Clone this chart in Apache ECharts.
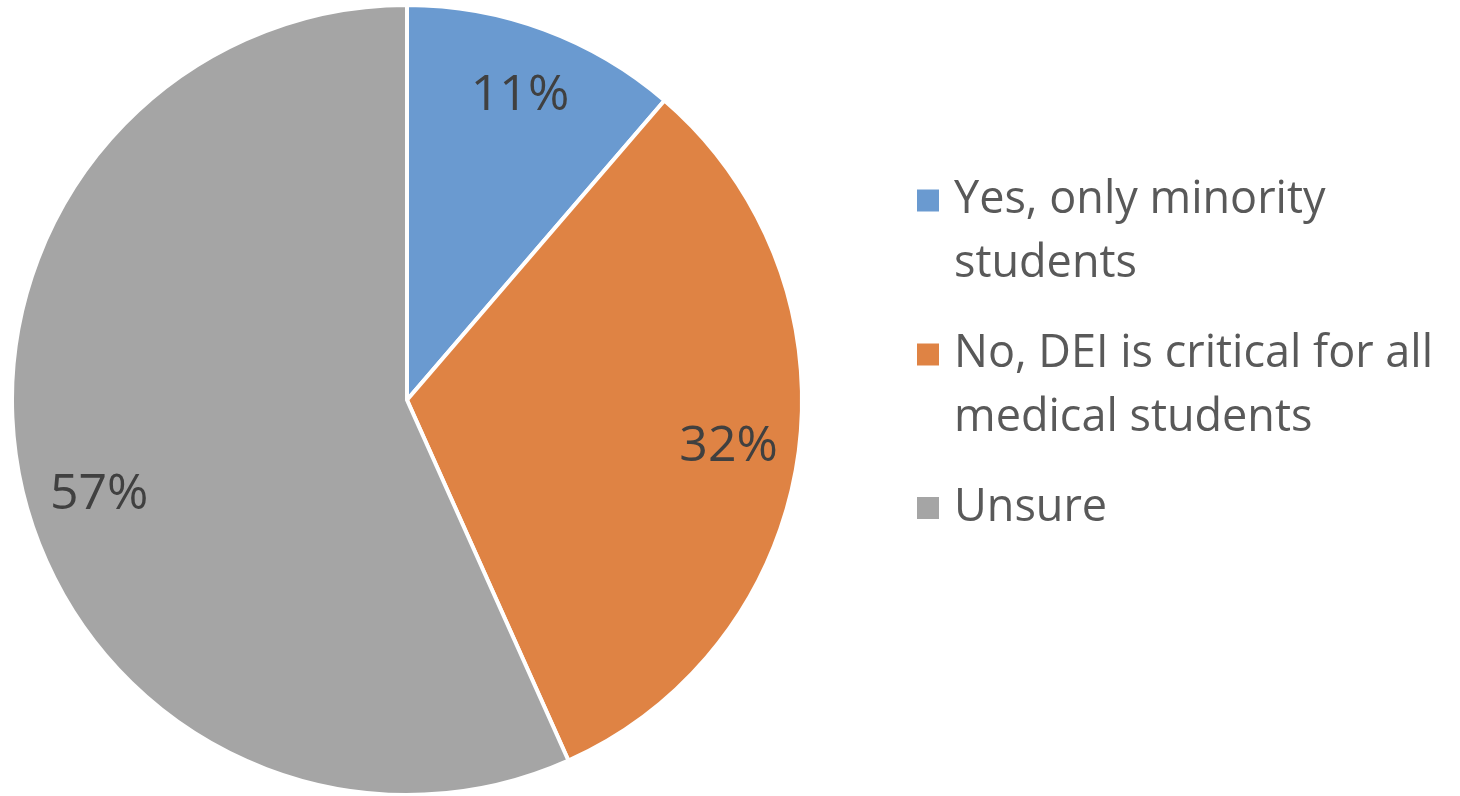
<!DOCTYPE html>
<html>
<head>
<meta charset="utf-8">
<script src="https://cdn.jsdelivr.net/npm/echarts@6/dist/echarts.min.js"></script>
<style>
html,body{margin:0;padding:0;background:#fff;}
#main{width:1460px;height:796px;}
</style>
</head>
<body>
<div id="main"></div>
<script>
const categories = ['Yes, only minority students', 'No, DEI is critical for all medical students', 'Unsure'];
const legendLabels = ['Yes, only minority\nstudents', 'No, DEI is critical for all\nmedical students', 'Unsure'];
const values = [11.3, 32.0, 56.7];
const colors = ['#6a9ad0', '#df8344', '#a5a5a5'];

const FONT = 'Open Sans';
const twoLineIcon = 'path://M0,0L24,0L24,24L0,24ZM33,0M0,87';
const oneLineIcon = 'path://M0,0L24,0L24,24L0,24ZM33,0';

const chart = echarts.init(document.getElementById('main'));
const data = categories.map((c, i) => ({ name: c, value: values[i], itemStyle: { color: colors[i] } }));

chart.setOption({
  animation: false,
  legend: {
    orient: 'vertical',
    left: 915,
    top: 168,
    padding: 0,
    itemGap: 26,
    itemWidth: 33,
    itemHeight: 87,
    symbolKeepAspect: true,
    data: categories.map((c, i) => ({ name: c, icon: legendLabels[i].indexOf('\n') >= 0 ? twoLineIcon : oneLineIcon })),
    formatter: function (name) { return legendLabels[categories.indexOf(name)]; },
    textStyle: { fontFamily: FONT, fontSize: 45, color: '#595959', lineHeight: 64 },
    selectedMode: false
  },
  series: [
    {
      type: 'pie',
      center: [407, 400],
      radius: [0, 395],
      startAngle: 90,
      clockwise: true,
      data: data,
      itemStyle: { borderColor: '#ffffff', borderWidth: 4 },
      label: { show: false },
      labelLine: { show: false },
      emphasis: { disabled: true }
    },
    {
      type: 'pie',
      center: [407, 400],
      radius: [249, 395],
      startAngle: 90,
      clockwise: true,
      silent: true,
      percentPrecision: 0,
      data: data.map((d, i) => ({
        name: d.name,
        value: d.value,
        itemStyle: { color: 'rgba(0,0,0,0)' },
        label: i === 2 ? { offset: [10, 27] } : {}
      })),
      itemStyle: { borderWidth: 0 },
      label: {
        show: true,
        position: 'inside',
        formatter: '{d}%',
        fontFamily: FONT,
        fontSize: 50,
        color: '#404040'
      },
      labelLine: { show: false },
      emphasis: { disabled: true }
    }
  ]
});
</script>
</body>
</html>
